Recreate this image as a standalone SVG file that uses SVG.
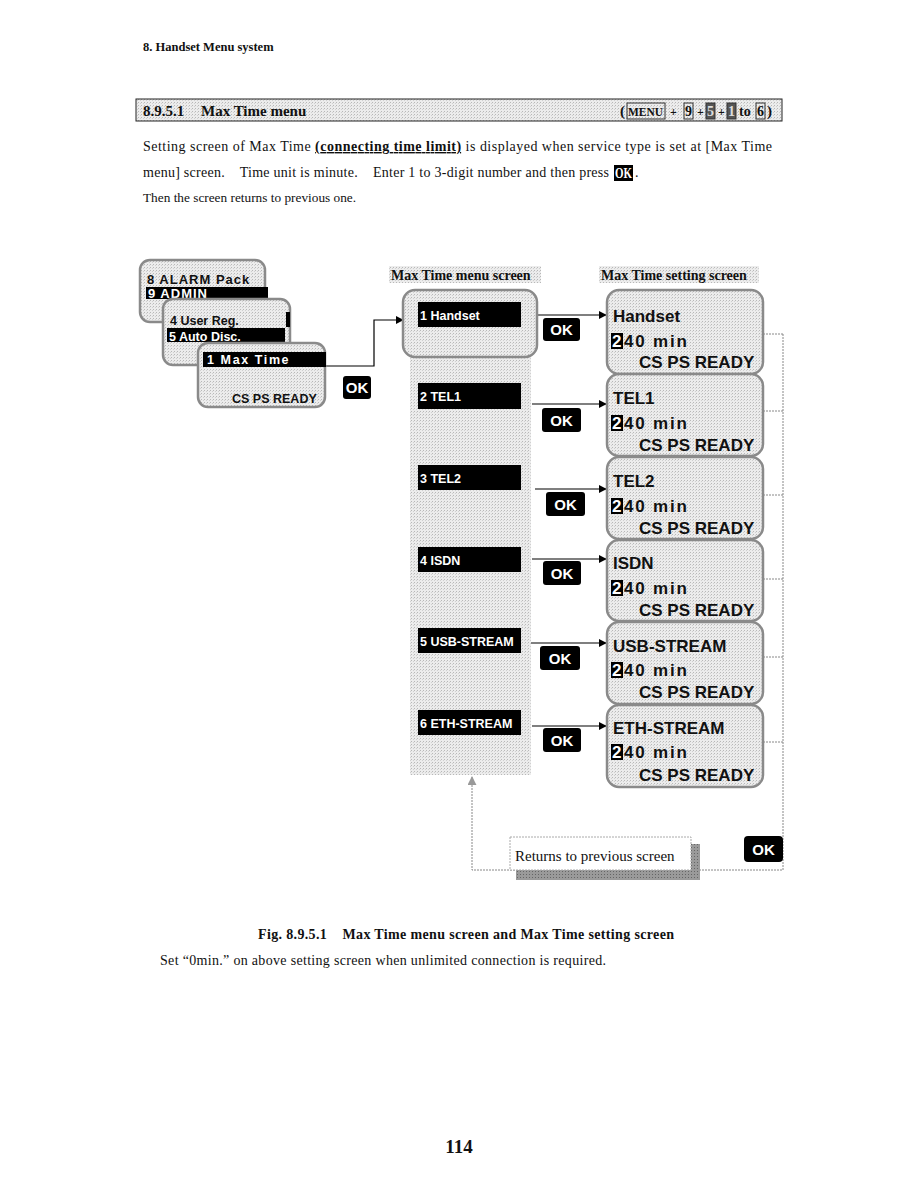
<svg xmlns="http://www.w3.org/2000/svg" width="918" height="1188" viewBox="0 0 918 1188">
<defs>
<pattern id="dots" width="3" height="3" patternUnits="userSpaceOnUse">
<rect width="3" height="3" fill="#ececec"/>
<rect x="0" y="0" width="1" height="1" fill="#b8b8b8"/>
<rect x="2" y="1" width="1" height="1" fill="#d0d0d0"/>
</pattern>
<pattern id="dark" width="3" height="3" patternUnits="userSpaceOnUse">
<rect width="3" height="3" fill="#9a9a9a"/>
<rect x="1" y="1" width="1" height="1" fill="#666"/>
</pattern>
<marker id="arr" viewBox="0 0 10 10" refX="9" refY="5" markerWidth="8" markerHeight="8" markerUnits="userSpaceOnUse" orient="auto">
<path d="M0,0 L10,5 L0,10 z" fill="#000"/>
</marker>
<marker id="arrg" viewBox="0 0 10 10" refX="9" refY="5" markerWidth="9" markerHeight="9" markerUnits="userSpaceOnUse" orient="auto">
<path d="M0,0 L10,5 L0,10 z" fill="#999"/>
</marker>
</defs>
<style>
.serif{font-family:"Liberation Serif","Times New Roman",serif;fill:#111;white-space:pre}
.b{font-weight:bold}
.lcd{font-family:"Liberation Sans",Arial,sans-serif;font-weight:bold;fill:#111}
.w{fill:#fff}
.scr{fill:url(#dots);stroke:#8a8a8a;stroke-width:2.5}
.bar{fill:#000}
.ok{fill:#000}
.oktxt{font-family:"Liberation Sans",Arial,sans-serif;font-weight:bold;fill:#fff;font-size:15px;text-anchor:middle}
.conn{stroke:#000;stroke-width:1.2;fill:none}
.dot{stroke:#888;stroke-width:1;fill:none;stroke-dasharray:2 1}
.st{font-size:17px}
</style>
<rect width="918" height="1188" fill="#fff"/>

<g id="page-text">
<text class="serif b" x="143" y="51" font-size="12.5">8. Handset Menu system</text>
<rect x="136" y="99" width="646" height="22" fill="url(#dots)" stroke="#222" stroke-width="1"/>
<text class="serif b" x="143" y="116" font-size="15">8.9.5.1</text>
<text class="serif b" x="201" y="116" font-size="15">Max Time menu</text>
<g id="keys">
<text class="serif b" x="620" y="116" font-size="15">(</text>
<rect x="627" y="103" width="38" height="16" fill="none" stroke="#333" stroke-width="1"/>
<text class="serif b" x="628" y="116" font-size="13" textLength="35" lengthAdjust="spacingAndGlyphs">MENU</text>
<text class="serif b" x="670" y="116" font-size="12">+</text>
<rect x="684" y="103" width="9" height="16" fill="none" stroke="#333" stroke-width="1"/>
<text class="serif b" x="685" y="116" font-size="14">9</text>
<text class="serif b" x="697" y="116" font-size="12">+</text>
<rect x="706" y="103" width="9" height="16" fill="#555" stroke="#333" stroke-width="1"/>
<text class="serif b" x="707" y="116" font-size="14" style="fill:#ddd">5</text>
<text class="serif b" x="718" y="116" font-size="12">+</text>
<rect x="727" y="103" width="9" height="16" fill="#555" stroke="#333" stroke-width="1"/>
<text class="serif b" x="728" y="116" font-size="14" style="fill:#ddd">1</text>
<text class="serif b" x="739" y="116" font-size="14">to</text>
<rect x="756" y="103" width="9" height="16" fill="none" stroke="#333" stroke-width="1"/>
<text class="serif b" x="757" y="116" font-size="14">6</text>
<text class="serif b" x="767" y="116" font-size="15">)</text>
</g>
<text class="serif" x="143" y="151" font-size="14" textLength="629" lengthAdjust="spacing">Setting screen of Max Time <tspan font-weight="bold" text-decoration="underline">(connecting time limit)</tspan> is displayed when service type is set at [Max Time</text>
<text class="serif" x="143" y="177" font-size="14" textLength="466" lengthAdjust="spacing">menu] screen.    Time unit is minute.    Enter 1 to 3-digit number and then press</text>
<rect x="614" y="165" width="19" height="16" fill="#000"/>
<text class="serif b" x="615" y="178" font-size="14" style="fill:#fff" textLength="17" lengthAdjust="spacingAndGlyphs">OK</text>
<text class="serif" x="635" y="177" font-size="14">.</text>
<text class="serif" x="143" y="202" font-size="13.3">Then the screen returns to previous one.</text>
</g>

<g id="labels">
<rect x="389" y="266" width="152" height="17" fill="url(#dots)"/>
<text class="serif b" x="391" y="280" font-size="14">Max Time menu screen</text>
<rect x="599" y="266" width="160" height="17" fill="url(#dots)"/>
<text class="serif b" x="601" y="280" font-size="14">Max Time setting screen</text>
</g>

<g id="connectors">
<polyline class="conn" points="325,366 374,366 374,320 403,320" marker-end="url(#arr)"/>
<line class="conn" x1="533" y1="315" x2="606" y2="315" marker-end="url(#arr)"/>
<line class="conn" x1="532" y1="404" x2="606" y2="404" marker-end="url(#arr)"/>
<line class="conn" x1="535" y1="489" x2="606" y2="489" marker-end="url(#arr)"/>
<line class="conn" x1="532" y1="559" x2="606" y2="559" marker-end="url(#arr)"/>
<line class="conn" x1="529" y1="643" x2="606" y2="643" marker-end="url(#arr)"/>
<line class="conn" x1="532" y1="726" x2="606" y2="726" marker-end="url(#arr)"/>
<line class="dot" x1="763" y1="334" x2="783" y2="334"/>
<line class="dot" x1="763" y1="411" x2="783" y2="411"/>
<line class="dot" x1="763" y1="495" x2="783" y2="495"/>
<line class="dot" x1="763" y1="579" x2="783" y2="579"/>
<line class="dot" x1="763" y1="657" x2="783" y2="657"/>
<line class="dot" x1="763" y1="742" x2="783" y2="742"/>
<polyline class="dot" points="783,334 783,870 472,870 472,777" marker-end="url(#arrg)"/>
</g>

<g id="left-screens">
<g id="screen-admin">
<rect class="scr" x="140" y="260" width="125" height="62" rx="10"/>
<text class="lcd" x="147" y="284" font-size="13" letter-spacing="1">8 ALARM Pack</text>
<rect class="bar" x="146" y="287" width="122" height="12"/>
<text class="lcd w" x="148" y="298" font-size="13" letter-spacing="1">9 ADMIN</text>
</g>
<g id="screen-autodisc">
<rect class="scr" x="163" y="299" width="127" height="66" rx="10"/>
<text class="lcd" x="170" y="325" font-size="12.5">4 User Reg.</text>
<rect class="bar" x="286" y="312" width="4" height="15"/>
<rect class="bar" x="167" y="328" width="118" height="14"/>
<text class="lcd w" x="169" y="341" font-size="12.5">5 Auto Disc.</text>
</g>
<g id="screen-maxtime">
<rect class="scr" x="198" y="343" width="127" height="64" rx="10"/>
<rect class="bar" x="203" y="352" width="123" height="15"/>
<text class="lcd w" x="207" y="364" font-size="12.5" letter-spacing="1.6">1 Max Time</text>
<text class="lcd" x="232" y="403" font-size="12.5">CS PS READY</text>
</g>
<g id="ok-left">
<rect class="ok" x="343" y="376" width="28" height="23" rx="3"/>
<text class="oktxt" x="357" y="393">OK</text>
</g>
</g>

<g id="menu-screen">
<rect x="410" y="350" width="121" height="425" fill="url(#dots)"/>
<rect class="scr" x="403" y="290" width="134" height="67" rx="12"/>
<rect class="bar" x="418" y="302" width="103" height="25"/>
<text class="lcd w" x="420" y="320" font-size="12.5">1 Handset</text>
<rect class="bar" x="418" y="383" width="103" height="26"/>
<text class="lcd w" x="420" y="401" font-size="12.5">2 TEL1</text>
<rect class="bar" x="418" y="465" width="103" height="25"/>
<text class="lcd w" x="420" y="483" font-size="12.5">3 TEL2</text>
<rect class="bar" x="418" y="547" width="103" height="25"/>
<text class="lcd w" x="420" y="565" font-size="12.5">4 ISDN</text>
<rect class="bar" x="418" y="628" width="103" height="25"/>
<text class="lcd w" x="420" y="646" font-size="12.5">5 USB-STREAM</text>
<rect class="bar" x="418" y="710" width="103" height="25"/>
<text class="lcd w" x="420" y="728" font-size="12.5">6 ETH-STREAM</text>
</g>

<g id="ok-buttons">
<rect class="ok" x="543" y="318" width="37" height="23" rx="3"/><text class="oktxt" x="561.5" y="335">OK</text>
<rect class="ok" x="542" y="408" width="39" height="24" rx="3"/><text class="oktxt" x="561.5" y="426">OK</text>
<rect class="ok" x="546" y="492" width="39" height="24" rx="3"/><text class="oktxt" x="565.5" y="510">OK</text>
<rect class="ok" x="543" y="561" width="38" height="24" rx="3"/><text class="oktxt" x="562" y="579">OK</text>
<rect class="ok" x="540" y="646" width="40" height="24" rx="3"/><text class="oktxt" x="560" y="664">OK</text>
<rect class="ok" x="543" y="728" width="38" height="24" rx="3"/><text class="oktxt" x="562" y="746">OK</text>
</g>

<g id="setting-handset">
<rect class="scr" x="607" y="290" width="156" height="84" rx="12"/>
<text class="lcd st" x="613" y="322">Handset</text>
<rect class="bar" x="611" y="333" width="12" height="16"/>
<text class="lcd st w" x="612" y="347">2</text>
<text class="lcd st" x="624" y="347" letter-spacing="1.8">40 min</text>
<text class="lcd st" x="639" y="368">CS PS READY</text>
</g>
<g id="setting-tel1">
<rect class="scr" x="607" y="374" width="156" height="82" rx="12"/>
<text class="lcd st" x="613" y="404">TEL1</text>
<rect class="bar" x="611" y="415" width="12" height="16"/>
<text class="lcd st w" x="612" y="429">2</text>
<text class="lcd st" x="624" y="429" letter-spacing="1.8">40 min</text>
<text class="lcd st" x="639" y="451">CS PS READY</text>
</g>
<g id="setting-tel2">
<rect class="scr" x="607" y="457" width="156" height="82" rx="12"/>
<text class="lcd st" x="613" y="487">TEL2</text>
<rect class="bar" x="611" y="498" width="12" height="16"/>
<text class="lcd st w" x="612" y="512">2</text>
<text class="lcd st" x="624" y="512" letter-spacing="1.8">40 min</text>
<text class="lcd st" x="639" y="534">CS PS READY</text>
</g>
<g id="setting-isdn">
<rect class="scr" x="607" y="540" width="156" height="81" rx="12"/>
<text class="lcd st" x="613" y="569">ISDN</text>
<rect class="bar" x="611" y="580" width="12" height="16"/>
<text class="lcd st w" x="612" y="594">2</text>
<text class="lcd st" x="624" y="594" letter-spacing="1.8">40 min</text>
<text class="lcd st" x="639" y="616">CS PS READY</text>
</g>
<g id="setting-usb">
<rect class="scr" x="607" y="622" width="156" height="82" rx="12"/>
<text class="lcd st" x="613" y="652">USB-STREAM</text>
<rect class="bar" x="611" y="662" width="12" height="16"/>
<text class="lcd st w" x="612" y="676">2</text>
<text class="lcd st" x="624" y="676" letter-spacing="1.8">40 min</text>
<text class="lcd st" x="639" y="698">CS PS READY</text>
</g>
<g id="setting-eth">
<rect class="scr" x="607" y="705" width="156" height="82" rx="12"/>
<text class="lcd st" x="613" y="734">ETH-STREAM</text>
<rect class="bar" x="611" y="744" width="12" height="16"/>
<text class="lcd st w" x="612" y="758">2</text>
<text class="lcd st" x="624" y="758" letter-spacing="1.8">40 min</text>
<text class="lcd st" x="639" y="781">CS PS READY</text>
</g>

<g id="return-note">
<rect x="516" y="844" width="184" height="36" fill="url(#dark)"/>
<rect x="510" y="837" width="181" height="33" fill="#fff" stroke="#aaa" stroke-width="1" stroke-dasharray="2 1"/>
<text class="serif" x="515" y="861" font-size="15">Returns to previous screen</text>
</g>
<g id="ok-return">
<rect class="ok" x="744" y="836" width="39" height="26" rx="4"/>
<text class="oktxt" x="763.5" y="855">OK</text>
</g>

<g id="caption">
<text class="serif b" x="258" y="939" font-size="14" textLength="416" lengthAdjust="spacing">Fig. 8.9.5.1    Max Time menu screen and Max Time setting screen</text>
<text class="serif" x="160" y="965" font-size="14" textLength="446" lengthAdjust="spacing">Set “0min.” on above setting screen when unlimited connection is required.</text>
<text class="serif b" x="459" y="1153" font-size="19" text-anchor="middle">114</text>
</g>
</svg>
